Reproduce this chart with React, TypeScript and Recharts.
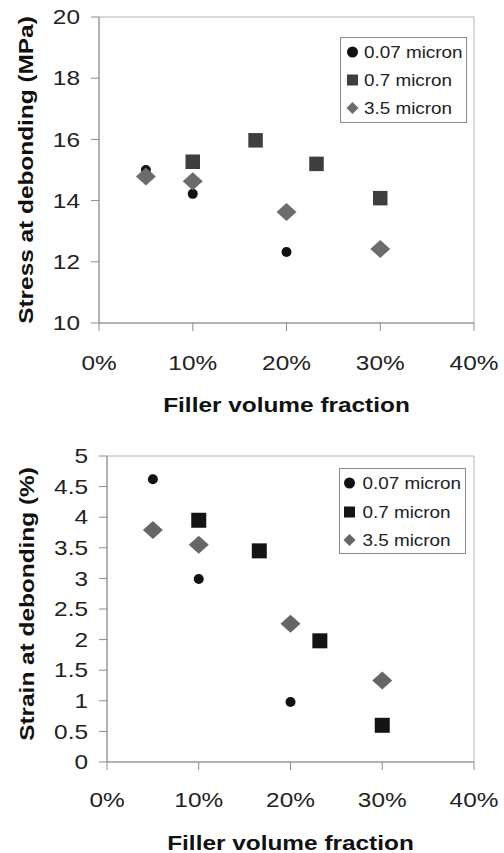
import React from 'react';
import { ScatterChart, Scatter, XAxis, YAxis, ReferenceArea, Legend, Label } from 'recharts';

const FONT = '"Liberation Sans", Arial, Helvetica, sans-serif';
const SX = 1.22;

const xTicks = [0, 0.1, 0.2, 0.3, 0.4];
const stressTicks = [10, 12, 14, 16, 18, 20];
const strainTicks = [0, 0.5, 1, 1.5, 2, 2.5, 3, 3.5, 4, 4.5, 5];

const seriesNames = ['0.07 micron', '0.7 micron', '3.5 micron'];

const stress007 = [
  { x: 0.05, y: 15.0 },
  { x: 0.1, y: 14.22 },
  { x: 0.2, y: 12.32 },
];
const stress07 = [
  { x: 0.1, y: 15.27 },
  { x: 0.167, y: 15.97 },
  { x: 0.232, y: 15.2 },
  { x: 0.3, y: 14.08 },
];
const stress35 = [
  { x: 0.05, y: 14.79 },
  { x: 0.1, y: 14.63 },
  { x: 0.2, y: 13.63 },
  { x: 0.3, y: 12.42 },
];

const strain007 = [
  { x: 0.05, y: 4.62 },
  { x: 0.1, y: 2.99 },
  { x: 0.2, y: 0.98 },
];
const strain07 = [
  { x: 0.1, y: 3.95 },
  { x: 0.166, y: 3.45 },
  { x: 0.232, y: 1.98 },
  { x: 0.3, y: 0.6 },
];
const strain35 = [
  { x: 0.05, y: 3.79 },
  { x: 0.1, y: 3.55 },
  { x: 0.2, y: 2.26 },
  { x: 0.3, y: 1.33 },
];

const topColors = ['#111111', '#3e3e3e', '#6c6c6c'];
const bottomColors = ['#111111', '#141414', '#666666'];

const circleShape = (color: string, r: number) => (p: any) => (
  <circle cx={p.cx} cy={p.cy} r={r} fill={color} />
);
const squareShape = (color: string, s: number) => (p: any) => (
  <rect x={p.cx - s / 2} y={p.cy - s / 2} width={s} height={s} fill={color} />
);
const diamondShape = (color: string, w: number, h: number) => (p: any) => (
  <path
    d={`M${p.cx},${p.cy - h}L${p.cx + w},${p.cy}L${p.cx},${p.cy + h}L${p.cx - w},${p.cy}Z`}
    fill={color}
  />
);

const fmtPct = (v: number) => `${Math.round(v * 100)}%`;

const XTick = (props: any) => {
  const { x, y, payload } = props;
  return (
    <g transform={`translate(${x},${y})`}>
      <text transform={`scale(${SX},1)`} textAnchor="middle" dy="0.71em" fontSize={20} fill="#222" fontFamily={FONT}>
        {fmtPct(payload.value)}
      </text>
    </g>
  );
};

const YTick = (props: any) => {
  const { x, y, payload } = props;
  return (
    <g transform={`translate(${x},${y})`}>
      <text transform={`scale(${SX},1)`} textAnchor="end" dy="0.355em" fontSize={20} fill="#222" fontFamily={FONT}>
        {String(payload.value)}
      </text>
    </g>
  );
};

const xTitle = (text: string, base: number) => (p: any) => {
  const vb = p.viewBox;
  return (
    <g transform={`translate(${vb.x + vb.width / 2},${vb.y + base})`}>
      <text transform={`scale(${SX},1)`} textAnchor="middle" fontSize={20} fontWeight="bold" fill="#111" fontFamily={FONT}>
        {text}
      </text>
    </g>
  );
};

const yTitle = (text: string, bx: number, dyc: number) => (p: any) => {
  const vb = p.viewBox;
  return (
    <g transform={`translate(${vb.x + bx},${vb.y + vb.height / 2 + dyc}) rotate(-90)`}>
      <text transform={`scale(${SX},1)`} textAnchor="middle" fontSize={20} fontWeight="bold" fill="#111" fontFamily={FONT}>
        {text}
      </text>
    </g>
  );
};

const LegendBox = ({ colors, mx, tx, rows }: { colors: string[]; mx: number; tx: number; rows: number[] }) => (
  <svg width={128} height={87} style={{ display: 'block' }}>
    <rect x={0.5} y={0.5} width={126} height={85} fill="#fff" stroke="#8a8a8a" strokeWidth={1} />
    {seriesNames.map((name, i) => {
      const cy = rows[i];
      let marker;
      if (i === 0) marker = <circle cx={mx} cy={cy} r={5.5} fill={colors[0]} />;
      else if (i === 1) marker = <rect x={mx - 5.5} y={cy - 5.5} width={11} height={11} fill={colors[1]} />;
      else
        marker = (
          <path d={`M${mx},${cy - 6}L${mx + 6},${cy}L${mx},${cy + 6}L${mx - 6},${cy}Z`} fill={colors[2]} />
        );
      return (
        <g key={name}>
          {marker}
          <g transform={`translate(${tx},${cy + 5.8})`}>
            <text transform="scale(1.18,1)" fontSize={16} fill="#222" fontFamily={FONT}>
              {name}
            </text>
          </g>
        </g>
      );
    })}
  </svg>
);

const axisStroke = '#8c8c8c';

export default function App() {
  return (
    <div style={{ position: 'absolute', left: 0, top: 0, width: 504, height: 853, background: '#fff' }}>
      <div style={{ position: 'absolute', left: 0, top: 0 }}>
        <ScatterChart width={504} height={430} margin={{ top: 17, right: 30, bottom: 0, left: 0 }}>
          <ReferenceArea x1={0} x2={0.4} y1={10} y2={20} fill="none" stroke="#b4b4b4" strokeWidth={1} />
          <XAxis
            type="number"
            dataKey="x"
            domain={[0, 0.4]}
            ticks={xTicks}
            interval={0}
            height={107}
            tickSize={8}
            tickMargin={25}
            axisLine={{ stroke: axisStroke }}
            tickLine={{ stroke: axisStroke }}
            tick={XTick}
          >
            <Label content={xTitle('Filler volume fraction', 89)} />
          </XAxis>
          <YAxis
            type="number"
            dataKey="y"
            domain={[10, 20]}
            ticks={stressTicks}
            interval={0}
            width={99}
            tickSize={8}
            tickMargin={11}
            axisLine={{ stroke: axisStroke }}
            tickLine={{ stroke: axisStroke }}
            tick={YTick}
          >
            <Label content={yTitle('Stress at debonding (MPa)', 33, 0)} />
          </YAxis>
          <Legend
            layout="vertical"
            align="center"
            verticalAlign="middle"
            wrapperStyle={{ position: 'absolute', left: 340, top: 37, width: 128, height: 87 }}
            content={() => <LegendBox colors={topColors} mx={12.5} tx={24} rows={[15, 43, 71]} />}
          />
          <Scatter name={seriesNames[0]} data={stress007} fill={topColors[0]} shape={circleShape(topColors[0], 5)} isAnimationActive={false} />
          <Scatter name={seriesNames[1]} data={stress07} fill={topColors[1]} shape={squareShape(topColors[1], 14.5)} isAnimationActive={false} />
          <Scatter name={seriesNames[2]} data={stress35} fill={topColors[2]} shape={diamondShape(topColors[2], 10, 9)} isAnimationActive={false} />
        </ScatterChart>
      </div>
      <div style={{ position: 'absolute', left: 0, top: 430 }}>
        <ScatterChart width={504} height={423} margin={{ top: 26, right: 30, bottom: 0, left: 0 }}>
          <ReferenceArea x1={0} x2={0.4} y1={0} y2={5} fill="none" stroke="#b4b4b4" strokeWidth={1} />
          <XAxis
            type="number"
            dataKey="x"
            domain={[0, 0.4]}
            ticks={xTicks}
            interval={0}
            height={91}
            tickSize={8}
            tickMargin={23}
            axisLine={{ stroke: axisStroke }}
            tickLine={{ stroke: axisStroke }}
            tick={XTick}
          >
            <Label content={xTitle('Filler volume fraction', 88)} />
          </XAxis>
          <YAxis
            type="number"
            dataKey="y"
            domain={[0, 5]}
            ticks={strainTicks}
            interval={0}
            width={107}
            tickSize={8}
            tickMargin={11}
            axisLine={{ stroke: axisStroke }}
            tickLine={{ stroke: axisStroke }}
            tick={YTick}
          >
            <Label content={yTitle('Strain at debonding (%)', 34, -5)} />
          </YAxis>
          <Legend
            layout="vertical"
            align="center"
            verticalAlign="middle"
            wrapperStyle={{ position: 'absolute', left: 339, top: 38, width: 128, height: 87 }}
            content={() => <LegendBox colors={bottomColors} mx={10.5} tx={23.5} rows={[15, 44, 72]} />}
          />
          <Scatter name={seriesNames[0]} data={strain007} fill={bottomColors[0]} shape={circleShape(bottomColors[0], 5)} isAnimationActive={false} />
          <Scatter name={seriesNames[1]} data={strain07} fill={bottomColors[1]} shape={squareShape(bottomColors[1], 15)} isAnimationActive={false} />
          <Scatter name={seriesNames[2]} data={strain35} fill={bottomColors[2]} shape={diamondShape(bottomColors[2], 10, 9)} isAnimationActive={false} />
        </ScatterChart>
      </div>
    </div>
  );
}
